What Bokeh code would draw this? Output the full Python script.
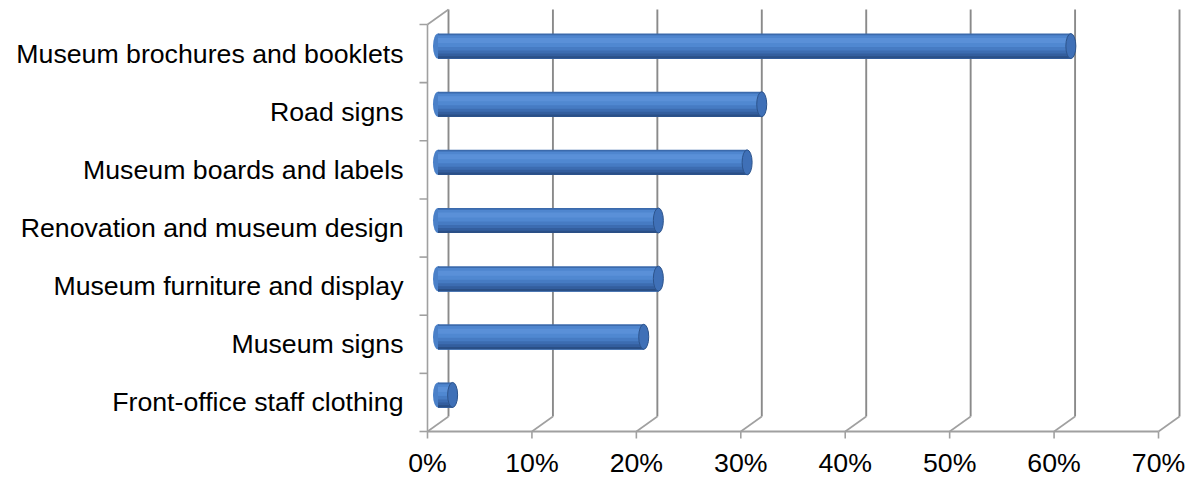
from bokeh.plotting import figure
from bokeh.models import Range1d, ColumnDataSource
from bokeh.embed import file_html
from bokeh.resources import INLINE
from bokeh.core.properties import value

# ---- data ----
categories = [
    "Museum brochures and booklets",
    "Road signs",
    "Museum boards and labels",
    "Renovation and museum design",
    "Museum furniture and display",
    "Museum signs",
    "Front-office staff clothing",
]
shares = [60.6, 31.0, 29.6, 21.1, 21.1, 19.7, 1.4]   # percent
x_ticks = [0, 10, 20, 30, 40, 50, 60, 70]
x_tick_labels = [f"{t}%" for t in x_ticks]

# ---- geometry (3D look) ----
W, H = 1197, 477
PX_X = 10.443          # px per percent
PX_Y = 58.14           # px per category band
X0_PAGE, Y0_PAGE = 427, 431   # position of origin inside the canvas
DX = 21 / PX_X         # depth offset (data units)
DY = 15 / PX_Y
BAR_H = 25 / PX_Y
N = len(categories)

p = figure(width=W, height=H, output_backend="svg", toolbar_location=None,
           x_range=Range1d(-X0_PAGE / PX_X, (W - X0_PAGE) / PX_X),
           y_range=Range1d(-(H - Y0_PAGE) / PX_Y, Y0_PAGE / PX_Y),
           min_border=0)
p.axis.visible = False
p.grid.visible = False
p.outline_line_color = None
p.background_fill_color = "white"
p.border_fill_color = "white"

GRID = "#8a8a8a"
FLOOR = "#a0a0a0"

# back wall gridlines
p.segment(x0=[t + DX for t in x_ticks], y0=[DY] * len(x_ticks),
          x1=[t + DX for t in x_ticks], y1=[N + DY] * len(x_ticks),
          line_color=GRID, line_width=1.9)
# floor slants
p.segment(x0=x_ticks, y0=[0] * len(x_ticks),
          x1=[t + DX for t in x_ticks], y1=[DY] * len(x_ticks),
          line_color=FLOOR, line_width=1.6)
# front floor edge
p.segment(x0=[x_ticks[0]], y0=[0], x1=[x_ticks[-1]], y1=[0],
          line_color=FLOOR, line_width=1.8)
# tick marks below axis
p.segment(x0=x_ticks, y0=[0] * len(x_ticks), x1=x_ticks,
          y1=[-7 / PX_Y] * len(x_ticks), line_color=FLOOR, line_width=1.6)
# left wall
p.segment(x0=[0, 0], y0=[0, N], x1=[0, DX], y1=[N, N + DY],
          line_color=FLOOR, line_width=1.6)
# category tick marks on left wall
p.segment(x0=[-8 / PX_X] * (N + 1), y0=list(range(N + 1)),
          x1=[0] * (N + 1), y1=list(range(N + 1)),
          line_color=FLOOR, line_width=1.6)

# ---- bars as cylinders ----
ys = [N - 1 - i + 0.5 + DY / 2 for i in range(N)]
src = ColumnDataSource(dict(y=ys, v=[s + DX / 2 for s in shares],
                            left=[DX / 2] * N, cat=categories))

# left rounded end
p.ellipse(x="left", y="y", width=10, height=25, width_units="screen",
          height_units="screen", source=src, fill_color="#4a80c8",
          line_color=None)

strips = [
    (0.00, "#3b6aac"),
    (0.07, "#4f86cf"),
    (0.18, "#5a90d8"),
    (0.38, "#5088d1"),
    (0.54, "#467bc3"),
    (0.68, "#3c6cb1"),
    (0.80, "#335e9e"),
    (0.91, "#2a4f86"),
]
# each strip covers from its top down to the bar's bottom; later strips
# overdraw the lower part, giving a seamless vertical gradient
for f0, col in strips:
    off = BAR_H * (0.5 - (f0 + 1.0) / 2)
    p.hbar(y=[y + off for y in ys], height=BAR_H * (1.0 - f0),
           left=DX / 2, right=src.data["v"], fill_color=col, line_color=None)

# right end cap
p.ellipse(x="v", y="y", width=10, height=25, width_units="screen",
          height_units="screen", source=src, fill_color="#3f70b7",
          line_color="#2d548c", line_width=1)

# ---- texts ----
FONT = value("Liberation Sans")
p.text(x=[-2.3] * N, y=[N - 1 - i + 0.5 for i in range(N)], text=categories,
       text_font=FONT, text_font_size="26.7px", text_align="right",
       text_baseline="middle", text_color="black")
p.text(x=x_ticks, y=[-31 / PX_Y] * len(x_ticks), text=x_tick_labels,
       text_font=FONT, text_font_size="26.7px", text_align="center",
       text_baseline="middle", text_color="black")

open("out.html", "w").write(file_html(p, INLINE))
